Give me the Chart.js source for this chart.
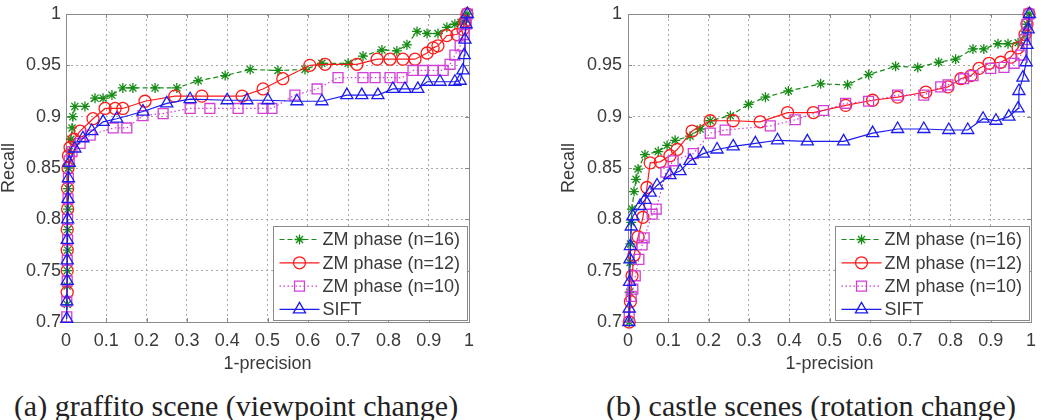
<!DOCTYPE html>
<html><head><meta charset="utf-8">
<script src="https://cdn.jsdelivr.net/npm/chart.js@4/dist/chart.umd.min.js"></script>
<style>
html,body{margin:0;padding:0;background:#fff;width:1052px;height:420px;overflow:hidden;position:relative}
canvas{position:absolute;top:0}
#c1{left:0}
#c2{left:560px}
.cap{position:absolute;font-family:"Liberation Serif","Times New Roman",serif;font-size:30px;color:#222;white-space:nowrap;transform:translateX(-50%);line-height:30px;top:391px}
</style></head><body>
<canvas id="c1" width="490" height="380"></canvas>
<canvas id="c2" width="490" height="380"></canvas>
<div class="cap" style="left:236px">(a) graffito scene (viewpoint change)</div>
<div class="cap" style="left:811px">(b) castle scenes (rotation change)</div>
<script>
// ---------- data ----------
const seriesLabels = ['ZM phase (n=16)', 'ZM phase (n=12)', 'ZM phase (n=10)', 'SIFT'];
const xTickValues = [0, 0.1, 0.2, 0.3, 0.4, 0.5, 0.6, 0.7, 0.8, 0.9, 1];
const yTickValues = [0.7, 0.75, 0.8, 0.85, 0.9, 0.95, 1];
const xAxisTitle = '1-precision';
const yAxisTitle = 'Recall';

// (a) graffito
const graffitoN16X = [0.003,0.003,0.003,0.004,0.004,0.005,0.005,0.006,0.008,0.012,0.015,0.017,0.022,0.047,0.072,0.092,0.114,0.141,0.166,0.221,0.275,0.328,0.395,0.457,0.526,0.593,0.635,0.700,0.737,0.784,0.821,0.846,0.871,0.896,0.923,0.945,0.965,0.980,0.990,0.995];
const graffitoN16Y = [0.717,0.735,0.750,0.770,0.790,0.810,0.830,0.850,0.866,0.878,0.889,0.900,0.910,0.910,0.918,0.918,0.921,0.928,0.928,0.928,0.928,0.935,0.940,0.946,0.945,0.946,0.952,0.952,0.959,0.965,0.964,0.970,0.983,0.981,0.981,0.987,0.990,0.992,0.995,1.000];
const graffitoN12X = [0.003,0.003,0.003,0.003,0.004,0.004,0.005,0.006,0.010,0.020,0.035,0.067,0.097,0.122,0.141,0.196,0.270,0.337,0.437,0.489,0.538,0.605,0.643,0.722,0.772,0.804,0.836,0.866,0.896,0.911,0.923,0.945,0.970,0.985,0.990,0.995];
const graffitoN12Y = [0.729,0.750,0.770,0.790,0.810,0.830,0.850,0.862,0.870,0.878,0.886,0.898,0.908,0.908,0.908,0.915,0.920,0.920,0.920,0.927,0.937,0.950,0.951,0.951,0.956,0.956,0.956,0.956,0.962,0.967,0.969,0.979,0.980,0.985,0.993,1.000];
const graffitoN10X = [0.002,0.002,0.003,0.003,0.004,0.004,0.005,0.006,0.008,0.015,0.035,0.060,0.117,0.151,0.191,0.241,0.308,0.357,0.427,0.489,0.511,0.568,0.623,0.675,0.737,0.767,0.804,0.834,0.861,0.886,0.911,0.936,0.953,0.965,0.978,0.988,0.993,0.996];
const graffitoN10Y = [0.705,0.720,0.740,0.760,0.780,0.800,0.820,0.840,0.857,0.866,0.874,0.882,0.889,0.889,0.901,0.903,0.908,0.908,0.908,0.908,0.908,0.921,0.927,0.938,0.938,0.938,0.938,0.938,0.945,0.945,0.945,0.945,0.951,0.960,0.969,0.980,0.990,1.000];
const graffitoSiftX = [0.002,0.002,0.003,0.003,0.003,0.004,0.005,0.006,0.008,0.022,0.042,0.064,0.092,0.126,0.191,0.250,0.308,0.400,0.449,0.501,0.573,0.635,0.697,0.734,0.774,0.811,0.841,0.873,0.896,0.928,0.965,0.978,0.985,0.988,0.990,0.993,0.996];
const graffitoSiftY = [0.703,0.720,0.740,0.760,0.780,0.800,0.820,0.840,0.855,0.869,0.879,0.886,0.895,0.898,0.905,0.913,0.917,0.916,0.916,0.916,0.915,0.915,0.921,0.921,0.921,0.927,0.927,0.927,0.934,0.934,0.934,0.935,0.945,0.960,0.975,0.990,1.000];

// (b) castle
const castleN16X = [0.003,0.004,0.005,0.006,0.008,0.010,0.015,0.020,0.025,0.042,0.075,0.097,0.117,0.154,0.179,0.204,0.254,0.299,0.341,0.398,0.478,0.545,0.597,0.664,0.719,0.771,0.813,0.856,0.883,0.918,0.943,0.968,0.985,0.990,0.995];
const castleN16Y = [0.700,0.729,0.758,0.776,0.797,0.810,0.827,0.839,0.849,0.863,0.866,0.872,0.877,0.881,0.888,0.896,0.901,0.912,0.919,0.925,0.932,0.931,0.941,0.949,0.948,0.953,0.956,0.966,0.966,0.971,0.971,0.972,0.980,0.990,1.000];
const castleN12X = [0.003,0.006,0.010,0.015,0.025,0.037,0.047,0.055,0.080,0.104,0.122,0.159,0.204,0.261,0.328,0.396,0.460,0.540,0.607,0.669,0.739,0.794,0.826,0.851,0.871,0.896,0.925,0.950,0.968,0.985,0.990,0.995];
const castleN12Y = [0.700,0.720,0.745,0.765,0.783,0.802,0.831,0.855,0.856,0.862,0.868,0.886,0.896,0.896,0.895,0.904,0.904,0.911,0.916,0.919,0.924,0.929,0.937,0.940,0.947,0.952,0.953,0.958,0.967,0.980,0.990,1.000];
const castleN10X = [0.003,0.008,0.012,0.018,0.027,0.035,0.040,0.060,0.070,0.094,0.112,0.162,0.204,0.241,0.353,0.415,0.485,0.540,0.597,0.669,0.734,0.776,0.794,0.833,0.856,0.900,0.933,0.958,0.975,0.985,0.990,0.995];
const castleN10Y = [0.705,0.725,0.732,0.745,0.761,0.775,0.782,0.805,0.810,0.846,0.857,0.864,0.884,0.887,0.891,0.897,0.906,0.913,0.915,0.921,0.921,0.929,0.931,0.937,0.940,0.947,0.948,0.952,0.960,0.975,0.990,1.000];
const castleSiftX = [0.002,0.003,0.004,0.005,0.006,0.008,0.012,0.030,0.042,0.055,0.072,0.104,0.129,0.154,0.187,0.221,0.261,0.316,0.371,0.445,0.535,0.607,0.669,0.734,0.796,0.843,0.881,0.913,0.945,0.968,0.970,0.980,0.988,0.990,0.993,0.996];
const castleSiftY = [0.700,0.713,0.739,0.761,0.774,0.793,0.803,0.813,0.819,0.826,0.833,0.843,0.847,0.857,0.864,0.868,0.871,0.874,0.877,0.876,0.876,0.884,0.888,0.888,0.887,0.887,0.898,0.896,0.900,0.908,0.925,0.938,0.953,0.970,0.985,1.000];

// ---------- styles ----------
const seriesStyles = [
  {color:'#168c16', dash:[5,3], point:'star', r:5, order:3},
  {color:'#ff1a1a', dash:[], point:'circle', r:6, order:2},
  {color:'#d13fd6', dash:[1.5,2.5], point:'rect', r:7, order:1},
  {color:'#1c1cf0', dash:[], point:'triangle', r:7, order:0}
];
const FONT = '"Liberation Sans", Arial, sans-serif';
const TXT = '#3a3a3a';
Chart.defaults.font.family = FONT;
Chart.defaults.font.size = 18;
Chart.defaults.color = TXT;

function markerPath(ctx, style, x, y, r) {
  ctx.beginPath();
  if (style === 'circle') {
    ctx.arc(x, y, r, 0, Math.PI * 2);
  } else if (style === 'rect') {
    const s = Math.SQRT1_2 * r;
    ctx.rect(x - s, y - s, 2 * s, 2 * s);
  } else if (style === 'triangle') {
    let a = 0;
    ctx.moveTo(x + Math.sin(a) * r, y - Math.cos(a) * r);
    a += 2 * Math.PI / 3;
    ctx.lineTo(x + Math.sin(a) * r, y - Math.cos(a) * r);
    a += 2 * Math.PI / 3;
    ctx.lineTo(x + Math.sin(a) * r, y - Math.cos(a) * r);
    ctx.closePath();
  } else if (style === 'star') {
    for (let k = 0; k < 4; k++) {
      const a = k * Math.PI / 4;
      const dx = Math.cos(a) * r, dy = Math.sin(a) * r;
      ctx.moveTo(x - dx, y - dy);
      ctx.lineTo(x + dx, y + dy);
    }
  }
  ctx.stroke();
}

const frame = {
  id: 'frame',
  beforeDatasetsDraw(chart) {
    const {ctx, chartArea: a} = chart;
    ctx.save();
    ctx.strokeStyle = '#8a8a8a';
    ctx.lineWidth = 1;
    ctx.strokeRect(Math.round(a.left) + 0.5, Math.round(a.top) + 0.5, Math.round(a.right - a.left), Math.round(a.bottom - a.top));
    const xs = chart.scales.x, ys = chart.scales.y;
    ctx.beginPath();
    xs.ticks.forEach(t => {
      const p = Math.round(xs.getPixelForValue(t.value)) + 0.5;
      ctx.moveTo(p, a.bottom); ctx.lineTo(p, a.bottom - 4);
      ctx.moveTo(p, a.top); ctx.lineTo(p, a.top + 4);
    });
    ys.ticks.forEach(t => {
      const p = Math.round(ys.getPixelForValue(t.value)) + 0.5;
      ctx.moveTo(a.left, p); ctx.lineTo(a.left + 4, p);
      ctx.moveTo(a.right, p); ctx.lineTo(a.right - 4, p);
    });
    ctx.stroke();
    ctx.restore();
  }
};

const boxLegend = {
  id: 'boxLegend',
  afterDraw(chart) {
    const {ctx, chartArea: a} = chart;
    const w = 194, h = 94;
    const left = Math.round(a.right - w - 2) + 0.5, top = Math.round(a.bottom - h - 2) + 0.5;
    ctx.save();
    ctx.fillStyle = '#fff';
    ctx.fillRect(left, top, w, h);
    ctx.strokeStyle = '#8a8a8a';
    ctx.lineWidth = 1;
    ctx.strokeRect(left, top, w, h);
    chart.data.datasets.forEach((ds, i) => {
      const st = seriesStyles[i];
      const y = top + 13 + i * 23.3;
      ctx.strokeStyle = st.color;
      ctx.lineWidth = 1.2;
      ctx.setLineDash(st.dash);
      ctx.beginPath();
      ctx.moveTo(left + 6, y); ctx.lineTo(left + 46, y);
      ctx.stroke();
      ctx.setLineDash([]);
      ctx.lineWidth = 1.3;
      markerPath(ctx, st.point, left + 26, y, st.r);
      ctx.fillStyle = TXT;
      ctx.font = '18px ' + FONT;
      ctx.textBaseline = 'middle';
      ctx.textAlign = 'left';
      ctx.fillText(ds.label, left + 49, y + 1);
    });
    ctx.restore();
  }
};

function fmt(v) { return String(Number(Number(v).toFixed(2))); }

function makeChart(id, seriesX, seriesY, yTickPad) {
  const datasets = seriesLabels.map((label, i) => {
    const st = seriesStyles[i];
    return {
      label,
      data: seriesX[i].map((x, k) => ({x, y: seriesY[i][k]})),
      borderColor: st.color,
      backgroundColor: 'rgba(0,0,0,0)',
      borderWidth: 1.2,
      borderDash: st.dash,
      pointStyle: st.point,
      pointRadius: st.r,
      pointBorderColor: st.color,
      pointBackgroundColor: 'rgba(0,0,0,0)',
      pointBorderWidth: 1.3,
      tension: 0,
      fill: false,
      clip: false,
      order: st.order
    };
  });
  return new Chart(document.getElementById(id), {
    type: 'line',
    data: {datasets},
    options: {
      responsive: false,
      animation: false,
      events: [],
      layout: {padding: {top: 14, right: id === 'c1' ? 21 : 19, left: 0, bottom: 0}},
      plugins: {legend: {display: false}, tooltip: {enabled: false}},
      scales: {
        x: {
          type: 'linear', min: 0, max: 1,
          afterBuildTicks: s => { s.ticks = xTickValues.map(v => ({value: v})); },
          afterFit: s => { s.height = 58; s.paddingLeft = 0; s.paddingRight = 0; },
          ticks: {callback: fmt, autoSkip: false, maxRotation: 0, padding: 8, color: TXT},
          grid: {color: '#a8a8a8', lineWidth: 1, drawTicks: false, borderDash: [2, 3]},
          border: {display: false, dash: [2, 3]},
          title: {display: true, text: xAxisTitle, color: TXT, padding: {top: 0, bottom: 5}}
        },
        y: {
          type: 'linear', min: 0.7, max: 1,
          afterBuildTicks: s => { s.ticks = yTickValues.map(v => ({value: v})); },
          afterFit: s => { s.width = id === 'c1' ? 66 : 68; s.paddingTop = 0; s.paddingBottom = 0; },
          ticks: {callback: fmt, autoSkip: false, padding: yTickPad, color: TXT},
          grid: {color: '#a8a8a8', lineWidth: 1, drawTicks: false, borderDash: [2, 3]},
          border: {display: false, dash: [2, 3]},
          title: {display: true, text: yAxisTitle, color: TXT, padding: {top: -2, bottom: 0}}
        }
      }
    },
    plugins: [frame, boxLegend]
  });
}

makeChart('c1',
  [graffitoN16X, graffitoN12X, graffitoN10X, graffitoSiftX],
  [graffitoN16Y, graffitoN12Y, graffitoN10Y, graffitoSiftY], 5);
makeChart('c2',
  [castleN16X, castleN12X, castleN10X, castleSiftX],
  [castleN16Y, castleN12Y, castleN10Y, castleSiftY], 6);
</script>
</body></html>
